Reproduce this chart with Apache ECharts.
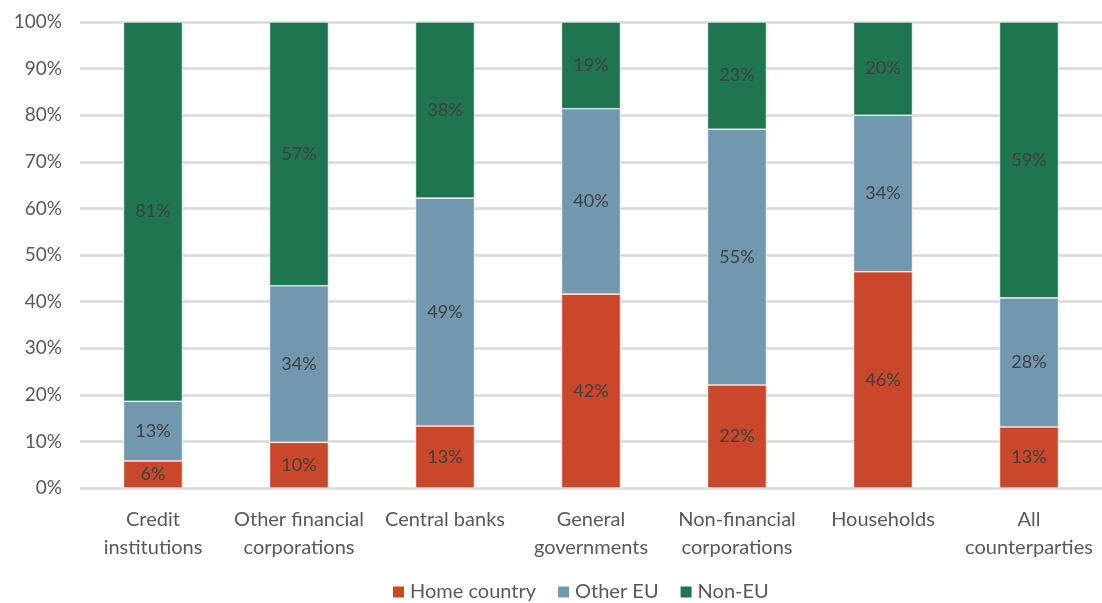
<!DOCTYPE html>
<html>
<head>
<meta charset="utf-8">
<script src="https://cdn.jsdelivr.net/npm/echarts@6/dist/echarts.min.js"></script>
<style>
  html, body { margin: 0; padding: 0; background: #fff; }
  #chart { width: 1102px; height: 603px; }
</style>
</head>
<body>
<div id="chart"></div>
<script>
const categories = ['Credit\ninstitutions', 'Other financial\ncorporations', 'Central banks', 'General\ngovernments', 'Non-financial\ncorporations', 'Households', 'All\ncounterparties']
const homeCountry = [5.8, 9.8, 13.3, 41.6, 22.1, 46.4, 13.1]
const otherEU = [12.8, 33.6, 48.9, 39.8, 54.9, 33.6, 27.7]
const nonEU = [81.4, 56.6, 37.8, 18.6, 23.0, 20.0, 59.2]
const seriesNames = ['Home country', 'Other EU', 'Non-EU']
const seriesColors = ['#C9472B', '#7198AF', '#1F7550']

const fontFamily = 'Lato, "Open Sans", sans-serif'

function makeSeries(name, color, data) {
  return {
    name: name,
    type: 'bar',
    stack: 'total',
    barWidth: 59,
    data: data,
    itemStyle: {
      color: color,
      borderColor: '#ffffff',
      borderWidth: 0.6
    },
    label: {
      show: true,
      position: 'inside',
      color: '#404040',
      fontFamily: fontFamily,
      fontSize: 18,
      formatter: function (p) {
        return Math.round(p.value) + '%'
      }
    }
  }
}

let myChart = echarts.init(document.getElementById('chart'))
let option = {
  animation: false,
  textStyle: { fontFamily: fontFamily },
  legend: {
    bottom: -4,
    left: 386,
    itemWidth: 13,
    itemHeight: 13,
    itemGap: 20,
    icon: 'rect',
    textStyle: {
      fontFamily: fontFamily,
      fontSize: 20,
      color: '#595959'
    },
    data: seriesNames
  },
  grid: {
    top: 22,
    left: 80,
    right: -10,
    bottom: 115
  },
  xAxis: {
    type: 'category',
    data: categories,
    axisLine: { show: false },
    axisTick: { show: false },
    axisLabel: {
      interval: 0,
      margin: 18,
      lineHeight: 28,
      fontSize: 20,
      color: '#595959',
      fontFamily: fontFamily
    }
  },
  yAxis: {
    type: 'value',
    min: 0,
    max: 100,
    interval: 10,
    axisLine: { show: false },
    axisTick: { show: false },
    axisLabel: {
      margin: 18,
      fontSize: 19,
      color: '#595959',
      fontFamily: fontFamily,
      formatter: '{value}%'
    },
    splitLine: {
      lineStyle: { color: '#D9D9D9', width: 2.5 }
    }
  },
  series: [
    makeSeries(seriesNames[0], seriesColors[0], homeCountry),
    makeSeries(seriesNames[1], seriesColors[1], otherEU),
    makeSeries(seriesNames[2], seriesColors[2], nonEU)
  ]
}
myChart.setOption(option)
</script>
</body>
</html>
